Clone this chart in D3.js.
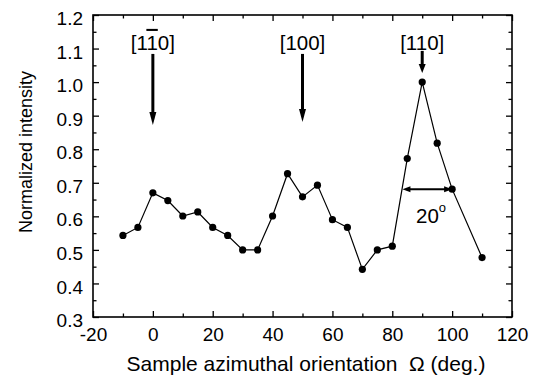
<!DOCTYPE html>
<html>
<head>
<meta charset="utf-8">
<script src="https://cdn.jsdelivr.net/npm/d3@7"></script>
<style>
  body { margin: 0; background: #fff; }
  text { font-family: "Liberation Sans", Arial, sans-serif; fill: #000; }
</style>
</head>
<body>
<div class="chart"></div>
<script>
let w = 535;
let h = 379;

// measured data
const angles = [-10, -5, 0, 5, 10, 15, 20, 25, 30, 35, 40, 45, 50, 55, 60, 65, 70, 75, 80, 85, 90, 95, 100, 110];
const intensity = [0.543, 0.567, 0.670, 0.647, 0.601, 0.613, 0.567, 0.543, 0.500, 0.500, 0.601, 0.727, 0.658, 0.693, 0.590, 0.567, 0.442, 0.500, 0.511, 0.772, 1.000, 0.818, 0.681, 0.477];

const xTicks = [-20, 0, 20, 40, 60, 80, 100, 120];
const yTicks = [0.3, 0.4, 0.5, 0.6, 0.7, 0.8, 0.9, 1.0, 1.1, 1.2];

// direction arrows: orientation, label, start/end of arrow in intensity units
const dirAngles = [0, 50, 90];
const dirLabels = [["[1", "1", "0]"], ["[100]"], ["[110]"]];
const dirLabelLevel = 1.096;
const dirFrom = [1.084, 1.084, 1.093];
const dirTo = [0.872, 0.881, 1.027];

// width marker
const fwhmFrom = 83.4, fwhmTo = 100, fwhmLevel = 0.681;

const svg = d3.select(".chart").append("svg")
  .attr("width", w)
  .attr("height", h);

const x = d3.scaleLinear().domain([-20, 120]).range([93, 512]);
const y = d3.scaleLinear().domain([0.3, 1.2]).range([317, 15]);

function drawAxis(axisFn, scale, ticks, minor, tr, labels) {
  const major = axisFn(scale).tickValues(ticks).tickSizeInner(-6).tickSizeOuter(0);
  if (!labels) major.tickFormat("");
  const g = svg.append("g").attr("transform", tr).call(major);
  const gm = svg.append("g").attr("transform", tr)
    .call(axisFn(scale).tickValues(minor).tickSizeInner(-3.5).tickSizeOuter(0).tickFormat(""));
  [g, gm].forEach(s => {
    s.select(".domain").remove();
    s.selectAll("line").attr("stroke", "#000").attr("stroke-width", 1.3);
  });
  return g;
}

const xMinor = d3.range(-10, 120, 20);
const yMinor = d3.range(0.35, 1.2, 0.1);

const gx = drawAxis(d3.axisBottom, x, xTicks, xMinor, "translate(0,317)", true);
gx.selectAll("text").attr("font-size", 19).attr("y", 24).attr("dy", 0).text(d => String(d));
drawAxis(d3.axisTop, x, xTicks, xMinor, "translate(0,15)", false);
const gy = drawAxis(d3.axisLeft, y, yTicks, yMinor, "translate(93,0)", true);
gy.selectAll("text").attr("font-size", 19).attr("x", -10).attr("y", 3).attr("dy", "0.35em")
  .text(d => d.toFixed(1));
drawAxis(d3.axisRight, y, yTicks, yMinor, "translate(512,0)", false);

svg.append("rect")
  .attr("x", 93).attr("y", 15)
  .attr("width", 512 - 93).attr("height", 317 - 15)
  .attr("fill", "none").attr("stroke", "#000").attr("stroke-width", 1.6);

svg.selectAll(".tick text").attr("font-family", "Liberation Sans, Arial, sans-serif");

// axis titles
svg.append("text")
  .attr("x", 306).attr("y", 371)
  .attr("text-anchor", "middle").attr("font-size", 21)
  .style("white-space", "pre")
  .text("Sample azimuthal orientation  \u03A9 (deg.)");

svg.append("text")
  .attr("transform", "translate(32,152) rotate(-90)")
  .attr("text-anchor", "middle").attr("font-size", 18)
  .text("Normalized intensity");

// data line and points
const pts = angles.map((a, i) => [a, intensity[i]]);
svg.append("path")
  .datum(pts)
  .attr("fill", "none")
  .attr("stroke", "#000")
  .attr("stroke-width", 1.2)
  .attr("d", d3.line().x(d => x(d[0])).y(d => y(d[1])));

svg.selectAll(".pt")
  .data(pts)
  .enter()
  .append("circle")
  .attr("class", "pt")
  .attr("cx", d => x(d[0]))
  .attr("cy", d => y(d[1]))
  .attr("r", 3.6)
  .attr("fill", "#000");

// direction arrows
dirAngles.forEach((a, i) => {
  const cx = x(a);
  const y0 = y(dirFrom[i]), y1 = y(dirTo[i]);
  const head = i == 2 ? 9 : 13;
  svg.append("line")
    .attr("x1", cx).attr("x2", cx)
    .attr("y1", y0).attr("y2", y1 - head + 2)
    .attr("stroke", "#000").attr("stroke-width", 3);
  svg.append("path")
    .attr("d", "M" + (cx - 3.5) + "," + (y1 - head) + "L" + (cx + 3.5) + "," + (y1 - head) + "L" + cx + "," + y1 + "Z")
    .attr("fill", "#000");
  const t = svg.append("text")
    .attr("x", cx).attr("y", y(dirLabelLevel))
    .attr("text-anchor", "middle").attr("font-size", 20.5);
  dirLabels[i].forEach((s, k) => {
    const sp = t.append("tspan").text(s);
    if (dirLabels[i].length > 1 && k == 1) sp.style("text-decoration", "overline");
  });
});

// width marker (20 deg)
const fy = y(fwhmLevel);
svg.append("line")
  .attr("x1", x(fwhmFrom) + 4).attr("x2", x(fwhmTo) - 4)
  .attr("y1", fy).attr("y2", fy)
  .attr("stroke", "#000").attr("stroke-width", 2);
[[x(fwhmFrom), 1], [x(fwhmTo), -1]].forEach(([px, dir]) => {
  svg.append("path")
    .attr("d", "M" + px + "," + fy + "L" + (px + dir * 8) + "," + (fy - 3) + "L" + (px + dir * 8) + "," + (fy + 3) + "Z")
    .attr("fill", "#000");
});
const lt = svg.append("text")
  .attr("x", 416).attr("y", fy + 34)
  .attr("font-size", 20.5);
lt.append("tspan").text("20");
lt.append("tspan").attr("font-size", 13).attr("dy", -11).text("o");
</script>
</body>
</html>
